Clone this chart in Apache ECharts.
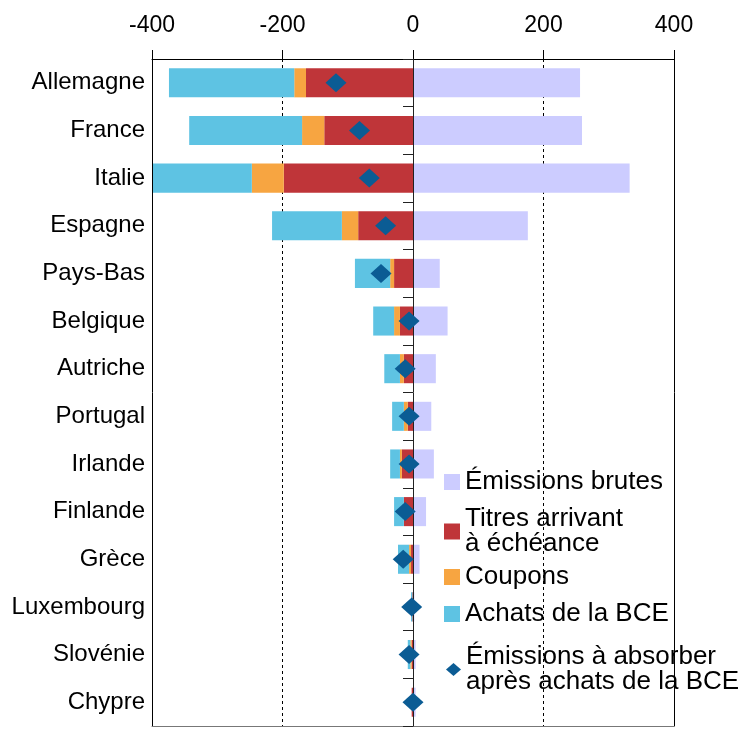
<!DOCTYPE html>
<html><head><meta charset="utf-8">
<script src="https://cdn.jsdelivr.net/npm/echarts/dist/echarts.min.js"></script>
<style>html,body{margin:0;padding:0;background:#fff}#c{width:749px;height:729px}</style>
</head><body><div id="c"></div>
<script>
const categories = ['Allemagne','France','Italie','Espagne','Pays-Bas','Belgique','Autriche','Portugal','Irlande','Finlande','Grèce','Luxembourg','Slovénie','Chypre'];
const emissionsBrutes = [256, 259, 332, 176, 41, 53, 35, 28, 32, 20, 10, 2, 4, 4];
const titresEcheance = [-164, -136, -198, -84, -29, -20, -14, -8, -17, -14, -3, -1, -2, -2];
const coupons = [-18, -34, -49, -25, -6, -9, -6, -6, -3, 0, -3, 0, -2, 0];
const achatsBCE = [-192, -173, -154, -107, -54, -32, -24, -18, -15, -15, -17, -2, -4, 0];
const emissionsAbsorber = [-118, -82, -67, -42, -49, -6, -12, -6, -6, -12, -15, -2, -6, 0];
const xTicks = {min: -400, max: 400, interval: 200};

const FONT = 'Liberation Sans, Arial, sans-serif';
const names = ['Émissions brutes', 'Titres arrivant\nà échéance', 'Coupons', 'Achats de la BCE', 'Émissions à absorber\naprès achats de la BCE'];
const colors = ['#CCCCFF', '#BF3539', '#F7A541', '#5EC3E3', '#0B5C94'];

function legendAt(i, top, icon, w, h, left) {
  return {
    data: [names[i]], top: top, left: left, orient: 'vertical', padding: 0,
    icon: icon, itemWidth: w, itemHeight: h, selectedMode: false,
    itemStyle: {opacity: 1},
    textStyle: {fontFamily: FONT, fontSize: 26, lineHeight: 25, color: '#000'}
  };
}

const chart = echarts.init(document.getElementById('c'), null, {renderer: 'canvas'});
chart.setOption({
  animation: false,
  backgroundColor: '#fff',
  grid: {left: 152, right: 75, top: 59, bottom: 3, show: false, containLabel: false, outerBoundsMode: 'none'},
  legend: [
    legendAt(0, 469, 'rect', 16, 16, 444),
    legendAt(1, 506, 'rect', 16, 16, 444),
    legendAt(2, 564, 'rect', 16, 16, 444),
    legendAt(3, 601, 'rect', 16, 16, 444),
    legendAt(4, 644, 'diamond', 15, 13, 446)
  ],
  xAxis: [
    {
      type: 'value', position: 'top', min: xTicks.min, max: xTicks.max, interval: xTicks.interval,
      axisLine: {show: true, onZero: false, lineStyle: {color: '#000', width: 1}},
      axisTick: {show: true, length: 9, inside: false, lineStyle: {color: '#000'}},
      axisLabel: {fontFamily: FONT, fontSize: 23, color: '#000', margin: 22},
      splitLine: {show: true, lineStyle: {color: '#000', type: [3, 3], width: 1}}
    },
    {
      type: 'value', position: 'bottom', min: xTicks.min, max: xTicks.max, interval: xTicks.interval, z: 3,
      axisLine: {show: true, onZero: false, lineStyle: {color: '#777', width: 1}},
      axisTick: {show: false}, axisLabel: {show: false}, splitLine: {show: false}
    }
  ],
  yAxis: [
    {
      type: 'category', data: categories, inverse: true, position: 'left', z: 3,
      axisLine: {show: true, onZero: false, lineStyle: {color: '#000', width: 1}}, axisTick: {show: false},
      axisLabel: {fontFamily: FONT, fontSize: 24, color: '#000', margin: 7},
      splitLine: {show: false}
    },
    {
      type: 'category', data: categories, inverse: true, position: 'left', z: 5,
      axisLine: {show: true, onZero: true, lineStyle: {color: '#222', width: 1}},
      axisTick: {show: true, length: 10, inside: false, lineStyle: {color: '#222'}},
      axisLabel: {show: false}, splitLine: {show: false}
    },
    {
      type: 'category', data: categories, inverse: true, position: 'right', z: 3,
      axisLine: {show: true, onZero: false, lineStyle: {color: '#000', width: 1}},
      axisTick: {show: false}, axisLabel: {show: false}, splitLine: {show: false}
    }
  ],
  series: [
    {name: names[0], type: 'bar', stack: 'total', data: emissionsBrutes, barWidth: '61%', itemStyle: {color: colors[0]}, z: 2},
    {name: names[1], type: 'bar', stack: 'total', data: titresEcheance, barWidth: '61%', itemStyle: {color: colors[1]}, z: 2},
    {name: names[2], type: 'bar', stack: 'total', data: coupons, barWidth: '61%', itemStyle: {color: colors[2]}, z: 2},
    {name: names[3], type: 'bar', stack: 'total', data: achatsBCE, barWidth: '61%', itemStyle: {color: colors[3]}, z: 2},
    {name: names[4], type: 'scatter', data: emissionsAbsorber.map((v, i) => [v, i]), symbol: 'diamond', symbolSize: [21, 19], itemStyle: {color: colors[4], opacity: 1}, z: 10}
  ]
});
</script>
</body></html>
